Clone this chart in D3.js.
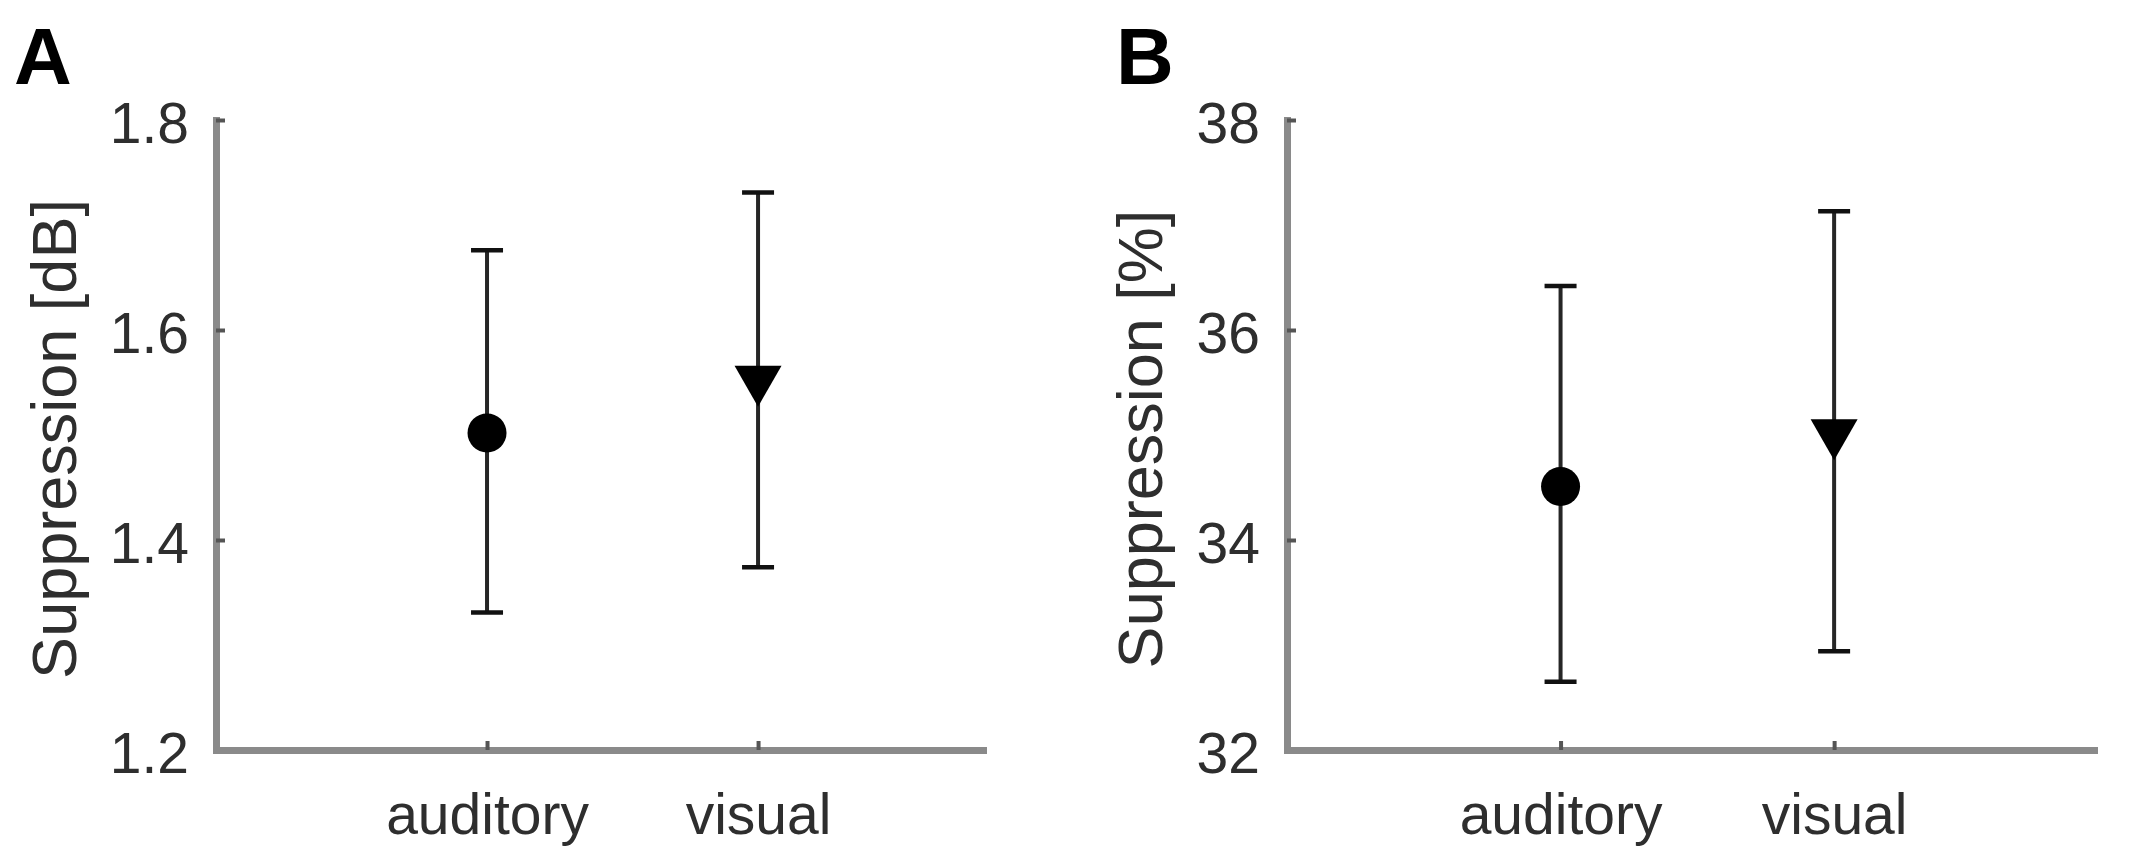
<!DOCTYPE html>
<html>
<head>
<meta charset="utf-8">
<script src="https://cdn.jsdelivr.net/npm/d3@7"></script>
<style>
  html, body { margin: 0; padding: 0; background: #fff; }
  svg { display: block; }
  text { font-family: "Liberation Sans", Arial, Helvetica, sans-serif; }
</style>
</head>
<body>
<svg id="chart" width="2139" height="861"></svg>
<script>
// ---- data ----
const categories = ["auditory", "visual"];
const markerShapes = ["circle", "triangle-down"];

const dbMean  = [1.502, 1.547];
const dbUpper = [1.676, 1.731];
const dbLower = [1.331, 1.374];
const dbTicks = [1.2, 1.4, 1.6, 1.8];

const pctMean  = [34.51, 34.96];
const pctUpper = [36.42, 37.13];
const pctLower = [32.65, 32.94];
const pctTicks = [32, 34, 36, 38];

// ---- layout ----
const panels = [
  { letter: "A", ylabel: "Suppression [dB]", mean: dbMean, upper: dbUpper, lower: dbLower,
    ticks: dbTicks, fmt: d3.format(".1f"),
    left: 216, right: 983, xmax: 2.83, letterX: 14, ylabelX: 54 },
  { letter: "B", ylabel: "Suppression [%]", mean: pctMean, upper: pctUpper, lower: pctLower,
    ticks: pctTicks, fmt: d3.format("d"),
    left: 1287, right: 2094, xmax: 2.95, letterX: 1116, ylabelX: 1140 }
];
const plotTop = 120, plotBottom = 750;
const axisColor = "#8a8a8a";
const tickColor = "#555";
const textColor = "#2e2e2e";
const fontSize = 57;

const svg = d3.select("#chart");

panels.forEach(p => {
  const g = svg.append("g");
  const y = d3.scaleLinear().domain([p.ticks[0], p.ticks[p.ticks.length - 1]]).range([plotBottom, plotTop]);
  const x = d3.scaleLinear().domain([0, p.xmax]).range([p.left, p.right]);

  // panel letter
  g.append("text")
    .attr("x", p.letterX).attr("y", 84)
    .attr("font-size", 80).attr("font-weight", "bold").attr("fill", "#000")
    .text(p.letter);

  // y axis
  const ya = g.append("g").attr("transform", `translate(${p.left},0)`)
    .call(d3.axisLeft(y).tickValues(p.ticks).tickFormat(p.fmt).tickSize(-9).tickSizeOuter(0).tickPadding(27));
  // x axis
  const xa = g.append("g").attr("transform", `translate(0,${plotBottom})`)
    .call(d3.axisBottom(x).tickValues(categories.map((c, i) => i + 1))
      .tickFormat((d, i) => categories[i]).tickSize(-9).tickSizeOuter(0).tickPadding(44));

  [ya, xa].forEach(a => {
    a.select(".domain").attr("stroke", axisColor).attr("stroke-width", 7).attr("stroke-linecap", "square");
    a.selectAll(".tick line").attr("stroke", tickColor).attr("stroke-width", 4);
    a.selectAll(".tick text").attr("fill", textColor).attr("font-size", fontSize)
      .attr("font-family", '"Liberation Sans", Arial, Helvetica, sans-serif');
  });
  ya.selectAll(".tick text").attr("dy", "0.40em");

  // y label
  g.append("text")
    .attr("transform", `translate(${p.ylabelX},${(plotTop + plotBottom) / 2 + 4}) rotate(-90)`)
    .attr("text-anchor", "middle").attr("dominant-baseline", "central")
    .attr("font-size", 63).attr("fill", textColor)
    .text(p.ylabel);

  // error bars and markers
  categories.forEach((c, i) => {
    const cx = x(i + 1);
    g.append("line")
      .attr("x1", cx).attr("x2", cx)
      .attr("y1", y(p.lower[i])).attr("y2", y(p.upper[i]))
      .attr("stroke", "#262626").attr("stroke-width", 4);
    [p.lower[i], p.upper[i]].forEach(v => {
      g.append("line")
        .attr("x1", cx - 16).attr("x2", cx + 16)
        .attr("y1", y(v)).attr("y2", y(v))
        .attr("stroke", "#111").attr("stroke-width", 4.5);
    });
    const cy = y(p.mean[i]);
    if (markerShapes[i] === "circle") {
      g.append("circle").attr("cx", cx).attr("cy", cy).attr("r", 19.5).attr("fill", "#000");
    } else {
      g.append("path")
        .attr("d", `M${cx - 23.5},${cy - 20} L${cx + 23.5},${cy - 20} L${cx},${cy + 21} Z`)
        .attr("fill", "#000");
    }
  });
});
</script>
</body>
</html>
